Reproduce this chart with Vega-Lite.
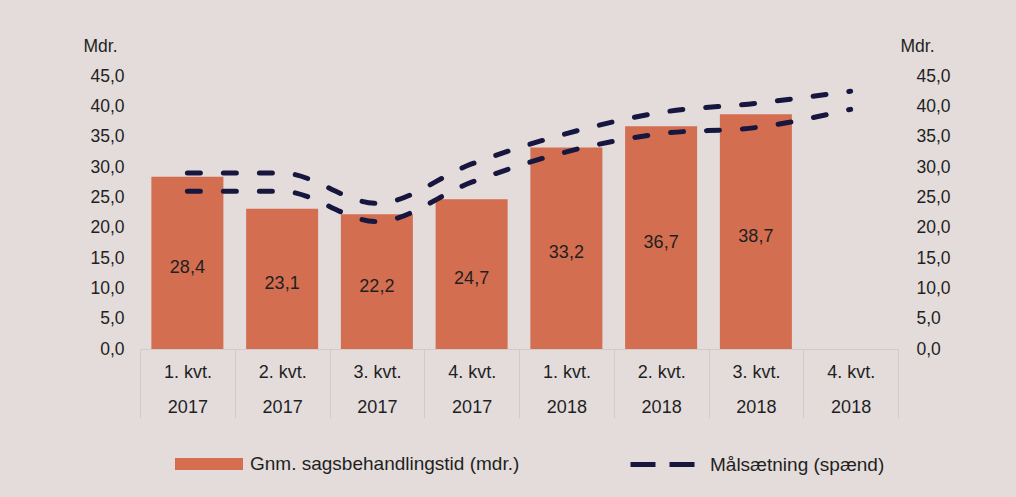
{
  "$schema": "https://vega.github.io/schema/vega-lite/v6.json",
  "autosize": {"type": "none"},
  "padding": {"left": 140, "top": 76, "right": 118, "bottom": 148},
  "background": "#e3dcdb",
  "width": 758,
  "height": 273,
  "config": {"font": "Liberation Sans", "view": {"stroke": null}},
  "datasets": {
    "bars": [
      {"kvartal": "1. kvt. 2017", "tid": 28.4},
      {"kvartal": "2. kvt. 2017", "tid": 23.1},
      {"kvartal": "3. kvt. 2017", "tid": 22.2},
      {"kvartal": "4. kvt. 2017", "tid": 24.7},
      {"kvartal": "1. kvt. 2018", "tid": 33.2},
      {"kvartal": "2. kvt. 2018", "tid": 36.7},
      {"kvartal": "3. kvt. 2018", "tid": 38.7}
    ],
    "maal": [
      {"kvartal": "1. kvt. 2017", "graense": "øvre", "maal": 29},
      {"kvartal": "2. kvt. 2017", "graense": "øvre", "maal": 29},
      {"kvartal": "3. kvt. 2017", "graense": "øvre", "maal": 24},
      {"kvartal": "4. kvt. 2017", "graense": "øvre", "maal": 30.5},
      {"kvartal": "1. kvt. 2018", "graense": "øvre", "maal": 35.5},
      {"kvartal": "2. kvt. 2018", "graense": "øvre", "maal": 39},
      {"kvartal": "3. kvt. 2018", "graense": "øvre", "maal": 40.5},
      {"kvartal": "4. kvt. 2018", "graense": "øvre", "maal": 42.5},
      {"kvartal": "1. kvt. 2017", "graense": "nedre", "maal": 26},
      {"kvartal": "2. kvt. 2017", "graense": "nedre", "maal": 26},
      {"kvartal": "3. kvt. 2017", "graense": "nedre", "maal": 21},
      {"kvartal": "4. kvt. 2017", "graense": "nedre", "maal": 27.5},
      {"kvartal": "1. kvt. 2018", "graense": "nedre", "maal": 32.5},
      {"kvartal": "2. kvt. 2018", "graense": "nedre", "maal": 35.5},
      {"kvartal": "3. kvt. 2018", "graense": "nedre", "maal": 36.5},
      {"kvartal": "4. kvt. 2018", "graense": "nedre", "maal": 39.5}
    ]
  },
  "encoding": {
    "x": {
      "field": "kvartal",
      "type": "nominal",
      "sort": null,
      "scale": {
        "domain": ["1. kvt. 2017", "2. kvt. 2017", "3. kvt. 2017", "4. kvt. 2017", "1. kvt. 2018", "2. kvt. 2018", "3. kvt. 2018", "4. kvt. 2018"],
        "paddingInner": 0,
        "paddingOuter": 0
      },
      "axis": {
        "title": null,
        "orient": "bottom",
        "domain": true,
        "domainColor": "#d3cbca",
        "domainWidth": 1,
        "ticks": true,
        "tickBand": "extent",
        "tickSize": 69,
        "tickColor": "#d3cbca",
        "tickWidth": 1,
        "labelAngle": 0,
        "labelExpr": "isString(datum.value) ? [slice(datum.value, 0, 7), slice(datum.value, 8)] : ''",
        "labelFont": "Liberation Sans",
        "labelFontSize": 18,
        "labelColor": "#1f1f1f",
        "labelLineHeight": 35,
        "labelBaseline": "middle",
        "labelPadding": -46
      }
    }
  },
  "layer": [
    {
      "data": {"name": "bars"},
      "mark": {"type": "bar", "width": {"band": 0.76}},
      "encoding": {
        "y": {
          "field": "tid",
          "type": "quantitative",
          "scale": {"domain": [0, 45], "nice": false},
          "axis": {
            "orient": "left",
            "values": [0, 5, 10, 15, 20, 25, 30, 35, 40, 45],
            "labelExpr": "isValid(datum.value) ? replace(format(datum.value, '.1f'), '.', ',') : ''",
            "domain": false,
            "ticks": false,
            "grid": false,
            "labelPadding": 16,
            "labelFont": "Liberation Sans",
            "labelFontSize": 17.5,
            "labelColor": "#1f1f1f",
            "title": "Mdr.",
            "titleAngle": 0,
            "titleX": -40,
            "titleY": -30,
            "titleAlign": "center",
            "titleBaseline": "middle",
            "titleFont": "Liberation Sans",
            "titleFontSize": 17.5,
            "titleFontWeight": "normal",
            "titleColor": "#1f1f1f"
          }
        },
        "fill": {
          "datum": "Gnm. sagsbehandlingstid (mdr.)",
          "scale": {"range": ["#d36e50"]},
          "legend": {
            "title": null,
            "orient": "none",
            "legendX": 35,
            "legendY": 354,
            "symbolType": "M-1,-0.18H1V0.18H-1Z",
            "symbolSize": 4624,
            "symbolStrokeWidth": 0,
            "labelFont": "Liberation Sans",
            "labelFontSize": 19,
            "labelColor": "#1f1f1f",
            "labelLimit": 0,
            "labelOffset": 7
          }
        }
      }
    },
    {
      "data": {"name": "bars"},
      "transform": [
        {"calculate": "datum.tid / 2", "as": "midt"},
        {"calculate": "replace(format(datum.tid, '.1f'), '.', ',')", "as": "etiket"}
      ],
      "mark": {"type": "text", "font": "Liberation Sans", "fontSize": 18, "color": "#1f1f1f", "baseline": "middle", "dy": 5},
      "encoding": {
        "y": {"field": "midt", "type": "quantitative", "scale": {"domain": [0, 45], "nice": false}, "axis": null},
        "text": {"field": "etiket", "type": "nominal"}
      }
    },
    {
      "data": {"name": "maal"},
      "mark": {"type": "line", "interpolate": "monotone", "strokeWidth": 5, "strokeDash": [13, 23], "strokeCap": "round"},
      "encoding": {
        "y": {
          "field": "maal",
          "type": "quantitative",
          "scale": {"domain": [0, 45], "nice": false},
          "axis": {
            "orient": "right",
            "values": [0, 5, 10, 15, 20, 25, 30, 35, 40, 45],
            "labelExpr": "isValid(datum.value) ? replace(format(datum.value, '.1f'), '.', ',') : ''",
            "domain": false,
            "ticks": false,
            "grid": false,
            "labelPadding": 18,
            "labelFont": "Liberation Sans",
            "labelFontSize": 17.5,
            "labelColor": "#1f1f1f",
            "title": "Mdr.",
            "titleAngle": 0,
            "titleX": 19,
            "titleY": -30,
            "titleAlign": "center",
            "titleBaseline": "middle",
            "titleFont": "Liberation Sans",
            "titleFontSize": 17.5,
            "titleFontWeight": "normal",
            "titleColor": "#1f1f1f"
          }
        },
        "detail": {"field": "graense", "type": "nominal"},
        "stroke": {
          "datum": "Målsætning (spænd)",
          "scale": {"range": ["#16163f"]},
          "legend": {
            "title": null,
            "orient": "none",
            "legendX": 488,
            "legendY": 354,
            "symbolType": "M-1,0H1",
            "symbolSize": 4096,
            "symbolStrokeWidth": 5,
            "symbolDash": [25, 14],
            "labelFont": "Liberation Sans",
            "labelFontSize": 19,
            "labelColor": "#1f1f1f",
            "labelLimit": 0,
            "labelOffset": 13
          }
        }
      }
    }
  ],
  "resolve": {"scale": {"y": "independent"}}
}
